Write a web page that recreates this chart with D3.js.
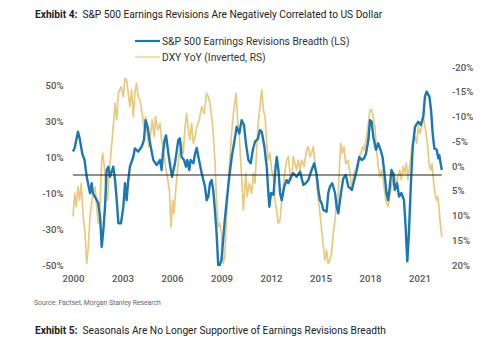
<!DOCTYPE html>
<html>
<head>
<meta charset="utf-8">
<script src="https://d3js.org/d3.v7.min.js"></script>
<style>
    body { margin: 0; background: #fff; }
    .tick-label { font-family: Roboto, sans-serif; font-size: 9.6px; font-weight: 500; fill: #555; }
    .head { font-family: Roboto, sans-serif; font-size: 10.2px; fill: #222; }
    .legend { font-family: Roboto, sans-serif; font-size: 10.3px; fill: #333; }
</style>
</head>
<body>
<div id="chart"></div>
<script>
// S&P 500 earnings revisions breadth, % (left scale) - [year, value]
const breadth = [
    [2000.0,13],[2000.1,15],[2000.3,24],[2000.4,20.5],[2000.56,12],[2000.7,8.3],[2000.83,-1],
    [2001.03,-10],[2001.13,-4.6],[2001.2,-10],[2001.44,-14],[2001.53,-15.7],[2001.64,-23],
    [2001.74,-40],[2001.84,-30.6],[2001.94,-17.6],[2002.04,2.8],[2002.14,4.6],[2002.24,-1],
    [2002.44,4.6],[2002.55,-2.8],[2002.65,-14],[2002.75,-26.8],[2002.91,-26.8],[2003.05,-17.6],
    [2003.15,-4.6],[2003.25,-14],[2003.35,-2.8],[2003.45,4.6],[2003.65,10],[2003.75,14.8],
    [2003.95,13],[2004.16,15.7],[2004.3,19.4],[2004.4,30.5],[2004.52,26.8],[2004.67,17.6],
    [2004.87,8.3],[2005.07,5.5],[2005.27,8.3],[2005.37,2.8],[2005.45,12],[2005.55,19.4],
    [2005.64,22],[2005.78,12],[2005.9,4.6],[2006.0,-1],[2006.18,6.5],[2006.38,19.4],[2006.48,20.4],
    [2006.58,10],[2006.73,8.3],[2006.85,4.6],[2006.93,8.3],[2007.05,2.8],[2007.13,8.3],[2007.3,6.5],
    [2007.4,12],[2007.5,15],[2007.6,10],[2007.8,1],[2008.0,-6.5],[2008.1,-14],[2008.2,-12],
    [2008.3,-4.6],[2008.4,-2.8],[2008.5,-8.3],[2008.6,-19.4],[2008.7,-32],[2008.8,-50],[2008.9,-50],
    [2009.0,-47],[2009.1,-36],[2009.2,-25],[2009.3,-15.7],[2009.47,-1],[2009.62,10],[2009.76,17.6],
    [2009.92,26.8],[2010.08,23],[2010.22,30.5],[2010.36,27.8],[2010.48,17.6],[2010.63,8.3],
    [2010.77,6.5],[2010.9,14],[2011.03,18.5],[2011.2,20],[2011.33,25],[2011.44,24],[2011.6,15.7],
    [2011.74,4.6],[2011.84,-10],[2011.9,-17.6],[2012.0,-10],[2012.15,-11],[2012.28,4.6],[2012.35,10],
    [2012.45,2.8],[2012.55,-10],[2012.65,-14],[2012.8,-6.5],[2012.95,-2.8],[2013.05,-4.6],
    [2013.21,-1],[2013.35,1],[2013.55,-1],[2013.76,1.9],[2013.96,-5.5],[2014.1,-4.6],[2014.26,-2.8],
    [2014.46,2.8],[2014.62,6.5],[2014.77,0],[2014.87,-8.3],[2014.97,-14],[2015.07,-15.7],
    [2015.17,-19.4],[2015.37,-20.4],[2015.47,-10],[2015.57,-6.5],[2015.71,-4.6],[2015.88,-10],
    [2015.98,-17.6],[2016.08,-21.3],[2016.24,-10],[2016.38,-1.9],[2016.53,0],[2016.69,-6.5],
    [2016.9,-8.3],[2017.0,-4.6],[2017.2,2.8],[2017.35,10],[2017.5,8.3],[2017.64,9.3],[2017.76,12],
    [2017.9,19.4],[2018.0,30.5],[2018.1,29.6],[2018.2,21.3],[2018.36,14],[2018.5,17.6],[2018.64,14],
    [2018.76,10],[2018.9,-1],[2019.0,-10],[2019.1,-14],[2019.2,-6.5],[2019.3,2.8],[2019.4,1],
    [2019.5,-8.3],[2019.64,-4.6],[2019.76,-12],[2019.9,-10],[2020.06,-14],[2020.16,-28.7],
    [2020.26,-48],[2020.36,-32],[2020.47,-6.5],[2020.59,15.7],[2020.73,26.8],[2020.93,29.6],
    [2021.08,27.8],[2021.23,32.4],[2021.33,43.5],[2021.43,46.3],[2021.6,43.5],[2021.7,36],
    [2021.8,23],[2021.9,14.8],[2022.04,14],[2022.14,9.3],[2022.2,11],[2022.35,2.8]
];

// DXY YoY, % (right scale, inverted) - [year, value]
const dxy = [
    [2000.0,10.2],[2000.1,5.5],[2000.2,8.2],[2000.3,4.2],[2000.4,6.9],[2000.5,3.5],[2000.62,10.2],
    [2000.73,13.6],[2000.83,19.7],[2000.93,16.3],[2001.03,10.2],[2001.13,7.5],[2001.23,5.5],
    [2001.33,4.2],[2001.44,8.2],[2001.53,11.6],[2001.64,7.5],[2001.74,-1.2],[2001.8,-2.6],
    [2001.9,0.1],[2001.98,4.2],[2002.1,6.9],[2002.18,1.5],[2002.3,-2.6],[2002.44,-7.9],
    [2002.55,-12.7],[2002.65,-9.3],[2002.75,-14.7],[2002.91,-16],[2003.05,-14],[2003.15,-17.7],
    [2003.25,-17.4],[2003.35,-14.7],[2003.45,-12],[2003.55,-15.4],[2003.65,-10],[2003.75,-14.7],
    [2003.85,-16.7],[2003.95,-14],[2004.06,-13.3],[2004.2,-10.6],[2004.3,-7.9],[2004.4,-10],
    [2004.52,-5.9],[2004.6,-3.9],[2004.73,-7.3],[2004.8,-9.3],[2004.93,-5.9],[2005.0,-10],
    [2005.13,-7.3],[2005.27,-8.6],[2005.37,-5.3],[2005.45,-3.9],[2005.55,-1.2],[2005.68,1.5],
    [2005.84,4.8],[2005.94,12.3],[2006.04,6.9],[2006.12,9.6],[2006.24,4.2],[2006.32,1.5],
    [2006.44,-2.6],[2006.58,-4.6],[2006.68,-2.6],[2006.79,-7.9],[2006.89,-10.6],[2006.99,-7.3],
    [2007.09,-5.3],[2007.19,-8.6],[2007.29,-4.6],[2007.4,-5.9],[2007.5,-7.9],[2007.65,-9.3],
    [2007.8,-12],[2007.94,-10.6],[2008.1,-14.7],[2008.2,-14],[2008.3,-12.7],[2008.4,-10],
    [2008.5,-6.6],[2008.6,-1.2],[2008.7,6.9],[2008.8,12.3],[2008.9,11.6],[2009.0,13.6],
    [2009.1,19.7],[2009.2,18.3],[2009.3,10.9],[2009.4,4.2],[2009.5,-1.2],[2009.6,-5.9],
    [2009.7,-10],[2009.8,-12.7],[2009.88,-14.7],[2009.98,-9.3],[2010.08,-5.9],[2010.22,2.2],
    [2010.32,8.9],[2010.42,4.2],[2010.48,1.5],[2010.56,6.2],[2010.68,3.5],[2010.83,5.5],
    [2010.93,1.5],[2011.03,3.5],[2011.13,-3.2],[2011.2,-7.9],[2011.33,-12],[2011.44,-15.4],
    [2011.54,-11.3],[2011.64,-10],[2011.74,-4.6],[2011.84,-1.2],[2011.94,-2.6],[2012.04,0.8],
    [2012.14,2.2],[2012.24,6.9],[2012.34,8.9],[2012.44,11.6],[2012.55,10.9],[2012.65,6.9],
    [2012.75,4.2],[2012.85,0.8],[2012.95,-1.2],[2013.05,-1.9],[2013.15,1.5],[2013.25,2.8],
    [2013.35,-1.9],[2013.45,-0.5],[2013.55,0.8],[2013.65,-1.2],[2013.76,0.8],[2013.86,-1.2],
    [2014.0,0.1],[2014.16,-3.2],[2014.26,-3.9],[2014.36,-1.9],[2014.46,-2.6],[2014.56,-3.9],
    [2014.67,-0.5],[2014.77,3.5],[2014.87,6.9],[2014.97,9.6],[2015.07,12.9],[2015.17,16.3],
    [2015.27,19],[2015.37,17],[2015.47,19.7],[2015.57,19],[2015.67,17.6],[2015.77,13.6],
    [2015.88,10.9],[2015.98,6.9],[2016.04,8.2],[2016.12,2.2],[2016.22,-4.6],[2016.32,-2.6],
    [2016.42,-3.9],[2016.53,-0.5],[2016.65,-1.2],[2016.79,1.5],[2016.89,4.8],[2017.03,1.5],
    [2017.2,0.1],[2017.3,-1.2],[2017.44,-2.6],[2017.56,-3.9],[2017.66,-3.2],[2017.76,-5.3],
    [2017.9,-8.6],[2018.0,-11.3],[2018.1,-11.3],[2018.2,-10],[2018.3,-7.9],[2018.4,-3.2],
    [2018.5,0.1],[2018.6,2.2],[2018.7,0.8],[2018.8,2.8],[2018.9,5.5],[2019.0,7.5],[2019.1,8.2],
    [2019.2,6.2],[2019.3,4.2],[2019.4,2.8],[2019.5,1.5],[2019.6,4.2],[2019.7,2.2],[2019.8,0.8],
    [2019.9,2.8],[2020.0,0.1],[2020.1,1.5],[2020.2,-0.5],[2020.3,2.8],[2020.4,0.1],[2020.52,-3.2],
    [2020.62,-5.3],[2020.73,-5.9],[2020.83,-4.6],[2020.93,-7.9],[2021.03,-6.6],[2021.13,-7.9],
    [2021.23,-10],[2021.3,-8.6],[2021.4,-6.6],[2021.48,-4.6],[2021.58,-0.5],[2021.68,0.8],
    [2021.76,-0.5],[2021.84,2.8],[2021.94,5.5],[2022.04,6.9],[2022.1,6.2],[2022.18,8.2],
    [2022.24,10.9],[2022.35,14.3]
];

const xTicks = [2000, 2003, 2006, 2009, 2012, 2015, 2018, 2021];
const leftTicks = [50, 30, 10, -10, -30, -50];
const rightTicks = [-20, -15, -10, -5, 0, 5, 10, 15, 20];

const seriesNames = ["S&P 500 Earnings Revisions Breadth (LS)", "DXY YoY (Inverted, RS)"];
const blue = "#1b78b0", gold = "#e9c97f";

const W = 500, H = 341;

var svg = d3.select("#chart").append("svg")
    .attr("width", W)
    .attr("height", H);

// scales
var x = d3.scaleLinear().domain([2000, 2022.4]).range([73, 442.6]);
var yL = d3.scaleLinear().domain([-50, 50]).range([265, 85]);
var yR = d3.scaleLinear().domain([-20, 20]).range([67, 265]);

svg.append("defs").append("clipPath").attr("id", "plot")
    .append("rect").attr("x", 60).attr("y", 62).attr("width", 400).attr("height", 204);

// title
var t = svg.append("text").attr("class", "head").attr("x", 35).attr("y", 17.5);
t.append("tspan").attr("font-weight", "bold").text("Exhibit 4:");
t.append("tspan").attr("dx", 5).text("S&P 500 Earnings Revisions Are Negatively Correlated to US Dollar");

// legend
var leg = svg.append("g");
[[blue, 2.2], [gold, 1.2]].forEach(function(s, i) {
    leg.append("line")
        .attr("x1", 135).attr("x2", 160)
        .attr("y1", 41 + i * 16).attr("y2", 41 + i * 16)
        .attr("stroke", s[0]).attr("stroke-width", s[1]);
    leg.append("text").attr("class", "legend")
        .attr("x", 162).attr("y", 41 + i * 16).attr("dy", "0.35em")
        .text(seriesNames[i]);
});

// axes (labels only)
var xAxis = svg.append("g")
    .attr("transform", "translate(0,275)")
    .call(d3.axisBottom(x).tickValues(xTicks).tickFormat(d3.format("d")).tickSize(0).tickPadding(0));
var lAxis = svg.append("g")
    .attr("transform", "translate(63.5,0)")
    .call(d3.axisLeft(yL).tickValues(leftTicks).tickFormat(d => d + "%").tickSize(0).tickPadding(0));
var rAxis = svg.append("g")
    .attr("transform", "translate(452,0)")
    .call(d3.axisRight(yR).tickValues(rightTicks).tickFormat(d => d + "%").tickSize(0).tickPadding(0));
[xAxis, lAxis, rAxis].forEach(function(a) {
    a.select(".domain").remove();
    a.selectAll("text").attr("class", "tick-label").attr("font-size", null).attr("font-family", null);
});

var plot = svg.append("g").attr("clip-path", "url(#plot)");

plot.append("path")
    .datum(dxy)
    .attr("fill", "none")
    .attr("stroke", gold)
    .attr("stroke-width", 1.7)
    .attr("stroke-linejoin", "round")
    .attr("d", d3.line().x(d => x(d[0])).y(d => yR(d[1])));

plot.append("path")
    .datum(breadth)
    .attr("fill", "none")
    .attr("stroke", blue)
    .attr("stroke-width", 2.4)
    .attr("stroke-linejoin", "round")
    .attr("d", d3.line().x(d => x(d[0])).y(d => yL(d[1])));

// zero line
svg.append("line")
    .attr("x1", x(2000)).attr("x2", x(2022.35))
    .attr("y1", yL(0)).attr("y2", yL(0))
    .attr("stroke", "#222").attr("stroke-width", 1.2);

// footer
svg.append("text")
    .attr("x", 34).attr("y", 305)
    .attr("font-family", "Roboto, sans-serif")
    .attr("font-size", 6.8).attr("fill", "#666")
    .text("Source: Factset, Morgan Stanley Research");

var t5 = svg.append("text").attr("class", "head").attr("x", 35).attr("y", 333.5);
t5.append("tspan").attr("font-weight", "bold").text("Exhibit 5:");
t5.append("tspan").attr("dx", 5).text("Seasonals Are No Longer Supportive of Earnings Revisions Breadth");
</script>
</body>
</html>
